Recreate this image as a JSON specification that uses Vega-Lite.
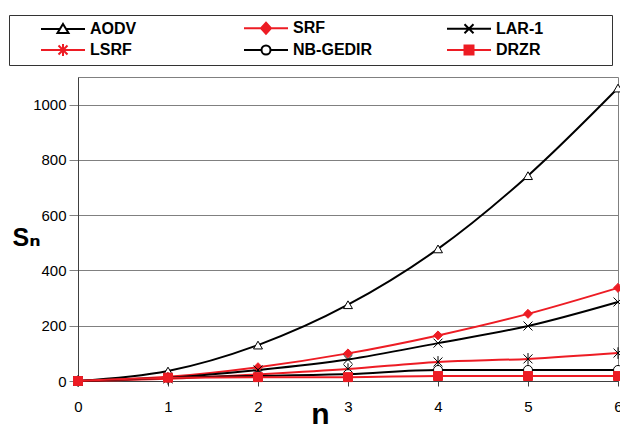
{
  "$schema": "https://vega.github.io/schema/vega-lite/v6.json",
  "width": 540,
  "height": 304,
  "autosize": {"type": "none"},
  "padding": {"left": 78, "top": 77, "right": 2, "bottom": 51},
  "background": "white",
  "config": {
    "view": {"stroke": "#808080", "strokeWidth": 1},
    "font": "Liberation Sans"
  },
  "data": {
    "values": [
      {"series": "AODV", "n": 0, "S": 0}, {"series": "AODV", "n": 1, "S": 36}, {"series": "AODV", "n": 2, "S": 130}, {"series": "AODV", "n": 3, "S": 276}, {"series": "AODV", "n": 4, "S": 478}, {"series": "AODV", "n": 5, "S": 743}, {"series": "AODV", "n": 6, "S": 1060},
      {"series": "SRF", "n": 0, "S": 0}, {"series": "SRF", "n": 1, "S": 15}, {"series": "SRF", "n": 2, "S": 50}, {"series": "SRF", "n": 3, "S": 100}, {"series": "SRF", "n": 4, "S": 165}, {"series": "SRF", "n": 5, "S": 243}, {"series": "SRF", "n": 6, "S": 337},
      {"series": "LAR-1", "n": 0, "S": 0}, {"series": "LAR-1", "n": 1, "S": 12}, {"series": "LAR-1", "n": 2, "S": 40}, {"series": "LAR-1", "n": 3, "S": 78}, {"series": "LAR-1", "n": 4, "S": 137}, {"series": "LAR-1", "n": 5, "S": 199}, {"series": "LAR-1", "n": 6, "S": 286},
      {"series": "LSRF", "n": 0, "S": 0}, {"series": "LSRF", "n": 1, "S": 8}, {"series": "LSRF", "n": 2, "S": 24}, {"series": "LSRF", "n": 3, "S": 43}, {"series": "LSRF", "n": 4, "S": 69}, {"series": "LSRF", "n": 5, "S": 80}, {"series": "LSRF", "n": 6, "S": 101},
      {"series": "NB-GEDIR", "n": 0, "S": 0}, {"series": "NB-GEDIR", "n": 1, "S": 12}, {"series": "NB-GEDIR", "n": 2, "S": 18}, {"series": "NB-GEDIR", "n": 3, "S": 25}, {"series": "NB-GEDIR", "n": 4, "S": 40}, {"series": "NB-GEDIR", "n": 5, "S": 40}, {"series": "NB-GEDIR", "n": 6, "S": 40},
      {"series": "DRZR", "n": 0, "S": 0}, {"series": "DRZR", "n": 1, "S": 12}, {"series": "DRZR", "n": 2, "S": 14}, {"series": "DRZR", "n": 3, "S": 14}, {"series": "DRZR", "n": 4, "S": 18}, {"series": "DRZR", "n": 5, "S": 18}, {"series": "DRZR", "n": 6, "S": 18}
    ]
  },
  "encoding": {
    "x": {
      "field": "n", "type": "quantitative",
      "scale": {"domain": [0, 6], "nice": false},
      "axis": {
        "title": "n", "titleFont": "Liberation Sans", "titleFontSize": 30, "titleFontWeight": "bold", "titleColor": "black",
        "titleX": 242, "titleY": 42, "titleAlign": "center", "titleBaseline": "alphabetic",
        "values": [0, 1, 2, 3, 4, 5, 6], "grid": false,
        "tickSize": 5, "tickColor": "#404040", "domainColor": "#404040",
        "labelPadding": 13, "labelFontSize": 15, "labelColor": "black", "labelFlush": false
      }
    },
    "y": {
      "field": "S", "type": "quantitative",
      "scale": {"domain": [0, 1100], "nice": false},
      "axis": {
        "title": "Sₙ", "titleFont": "Liberation Sans, DejaVu Sans", "titleFontSize": 25, "titleFontWeight": "bold", "titleColor": "black",
        "titleAngle": 0, "titleAlign": "left", "titleBaseline": "alphabetic", "titleX": -66, "titleY": 168,
        "values": [0, 200, 400, 600, 800, 1000], "format": "d",
        "grid": true, "gridColor": "#808080", "gridWidth": 1,
        "tickSize": 9, "tickColor": "#808080", "domainColor": "#404040",
        "labelPadding": 3, "labelFontSize": 15, "labelColor": "black"
      }
    }
  },
  "layer": [
    {
      "mark": {"type": "line", "interpolate": "monotone", "strokeWidth": 2},
      "encoding": {
        "stroke": {
          "field": "series", "type": "nominal",
          "scale": {"domain": ["AODV", "SRF", "LAR-1", "LSRF", "NB-GEDIR", "DRZR"], "range": ["#000000", "#ed1c24", "#000000", "#ed1c24", "#000000", "#ed1c24"]},
          "legend": null
        }
      }
    },
    {
      "mark": {"type": "point", "size": 80, "strokeWidth": 1, "opacity": 1},
      "encoding": {
        "shape": {
          "field": "series", "type": "nominal",
          "scale": {"domain": ["AODV", "SRF", "LAR-1", "LSRF", "NB-GEDIR", "DRZR"], "range": ["triangle-up", "diamond", "M-1,-1L1,1M-1,1L1,-1", "M-1,-1L1,1M-1,1L1,-1M0,-1.3L0,1.3", "circle", "square"]},
          "legend": null
        },
        "fill": {
          "field": "series", "type": "nominal",
          "scale": {"domain": ["AODV", "SRF", "LAR-1", "LSRF", "NB-GEDIR", "DRZR"], "range": ["#ffffff", "#ed1c24", "transparent", "transparent", "#ffffff", "#ed1c24"]},
          "legend": null
        },
        "stroke": {
          "field": "series", "type": "nominal",
          "scale": {"domain": ["AODV", "SRF", "LAR-1", "LSRF", "NB-GEDIR", "DRZR"], "range": ["#000000", "#ed1c24", "#000000", "#000000", "#000000", "#ed1c24"]},
          "legend": null
        }
      }
    },
    {
      "transform": [{"filter": "datum.n < 0"}],
      "mark": {
        "type": "point", "size": 100, "strokeWidth": 2, "opacity": 1, "filled": false,
        "fill": {"expr": "datum.value === 'AODV' || datum.value === 'NB-GEDIR' ? 'white' : (datum.value === 'SRF' || datum.value === 'DRZR') ? '#ed1c24' : 'transparent'"},
        "stroke": {"expr": "datum.value === 'SRF' || datum.value === 'LSRF' || datum.value === 'DRZR' ? '#ed1c24' : 'black'"}
      },
      "encoding": {
        "shape": {
          "field": "series", "type": "nominal",
          "scale": {
            "domain": ["AODV", "SRF", "LAR-1", "LSRF", "NB-GEDIR", "DRZR"],
            "range": [
              "M-4.4,0H-0.61M0.61,0H4.4M0,-1L1.1,0.8L-1.1,0.8ZM-10.2,0M26.8,0",
              "M-4.4,0H4.4M0,-1.1L1,0L0,1.1L-1,0ZM-10.2,0M26.8,0",
              "M-4.4,0H4.4M-0.9,-0.9L0.9,0.9M-0.9,0.9L0.9,-0.9M-10.2,0M26.8,0",
              "M-4.4,0H4.4M-0.9,-0.9L0.9,0.9M-0.9,0.9L0.9,-0.9M0,-1.2L0,1.2M-10.2,0M26.8,0",
              "M-4.4,0H-0.9M0.9,0H4.4M-0.9,0A0.9,0.9 0 1,0 0.9,0A0.9,0.9 0 1,0 -0.9,0ZM-10.2,0M26.8,0",
              "M-4.4,0H4.4M-0.9,-0.9H0.9V0.9H-0.9ZM-10.2,0M26.8,0"
            ]
          },
          "legend": {
            "title": null,
            "orient": "none", "legendX": -69, "legendY": -62,
            "direction": "horizontal", "columns": 3,
            "padding": 5, "strokeColor": "#333333", "fillColor": "white",
            "columnPadding": 10, "rowPadding": 2,
            "symbolOffset": 41, "labelOffset": 19, "symbolSize": 100, "symbolStrokeWidth": 2,
            "labelFont": "Liberation Sans", "labelFontWeight": "bold", "labelFontSize": 16, "labelColor": "black"
          }
        }
      }
    }
  ],
  "resolve": {"scale": {"stroke": "independent", "shape": "independent"}}
}
